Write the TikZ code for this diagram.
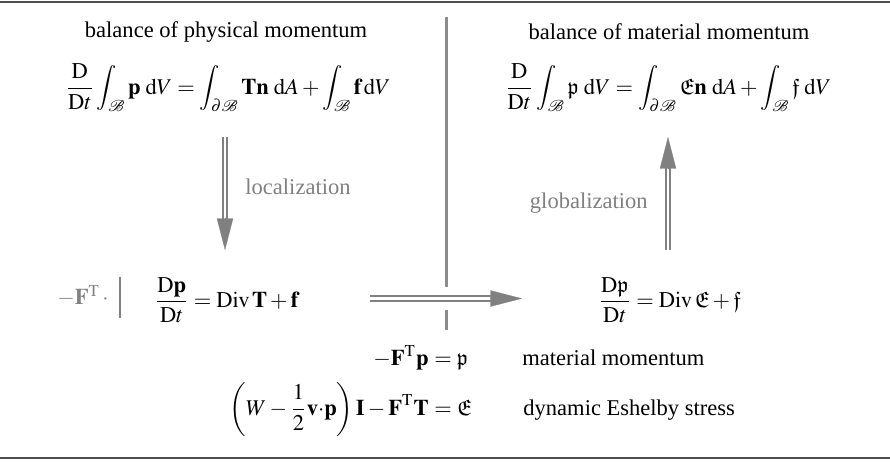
\documentclass[tikz,border=0pt]{standalone}
\usepackage{mathptmx}
\usepackage{amssymb}
\usepackage{mathrsfs}
\usepackage{fontspec}
\setmainfont{Liberation Serif}
\usetikzlibrary{arrows.meta,calc}
\definecolor{agray}{HTML}{808080}
\definecolor{sgray}{HTML}{8C8C8C}
\definecolor{rgray}{HTML}{4D4D4D}
\tikzset{
  shaft/.style={draw=agray, line width=0.9pt, double=white, double distance=0.9pt, shorten >=10pt},
  head/.style={draw=agray, line width=0.1pt, -{Triangle[length=14pt,width=7.2pt]}},
  sep/.style={draw=sgray, line width=1.1pt},
  rulel/.style={draw=rgray, line width=0.9pt},
  eq/.style={inner sep=0pt},
  ttl/.style={inner sep=0pt},
  lbl/.style={inner sep=0pt, text=agray},
}
\newcommand\dblarrow[2]{\draw[shaft] (#1) -- (#2); \draw[head] ($(#2)!14pt!(#1)$) -- (#2);}
\begin{document}
\begin{tikzpicture}[x=0.444pt,y=-0.444pt]
\useasboundingbox (0,0) rectangle (890,461);
% rules
\coordinate (r1a) at (0,2);
\coordinate (r1b) at (890,2);
\coordinate (r2a) at (0,458);
\coordinate (r2b) at (890,458);
\draw[rulel] (r1a) -- (r1b);
\draw[rulel] (r2a) -- (r2b);
% separator
\coordinate (s1) at (446.5,17);
\coordinate (s2) at (446.5,287);
\coordinate (s3) at (446.5,310);
\coordinate (s4) at (446.5,330);
\draw[sep] (s1) -- (s2);
\draw[sep] (s3) -- (s4);
% titles
\node[ttl] (tl) at (226,32) {balance of physical momentum};
\node[ttl] (tr) at (669,32) {balance of material momentum};
% global equations
\node[eq] (el) at (228,88) {$\displaystyle \frac{\mathrm{D}}{\mathrm{D}t}\int_{\mathscr{B}}\mathbf{p}\;\mathrm{d}V = \int_{\partial\mathscr{B}}\mathbf{T}\mathbf{n}\;\mathrm{d}A + \int_{\mathscr{B}}\mathbf{f}\,\mathrm{d}V$};
\node[eq] (er) at (668,88) {$\displaystyle \frac{\mathrm{D}}{\mathrm{D}t}\int_{\mathscr{B}}\mathfrak{p}\;\mathrm{d}V = \int_{\partial\mathscr{B}}\mathfrak{E}\mathbf{n}\;\mathrm{d}A + \int_{\mathscr{B}}\mathfrak{f}\;\mathrm{d}V$};
% arrows
\coordinate (d1) at (225,137);
\coordinate (d2) at (225,250);
\dblarrow{d1}{d2}
\node[lbl, anchor=west] (loc) at (245,187) {localization};
\coordinate (u1) at (668,250);
\coordinate (u2) at (668,137);
\dblarrow{u1}{u2}
\node[lbl, anchor=east] (glob) at (648,203) {globalization};
% local equations
\node[eq, text=agray] (ft) at (83,296) {$-\mathbf{F}^{\mathrm{T}}\,\cdot$};
\coordinate (b1) at (120,277);
\coordinate (b2) at (120,318);
\draw[draw=agray, line width=0.45pt] (b1) -- (b2);
\node[eq] (dl) at (226.5,300) {$\displaystyle \frac{\mathrm{D}\mathbf{p}}{\mathrm{D}t} = \mathrm{Div}\,\mathbf{T} + \mathbf{f}$};
\node[eq] (dr) at (669.5,300) {$\displaystyle \frac{\mathrm{D}\mathfrak{p}}{\mathrm{D}t} = \mathrm{Div}\,\mathfrak{E} + \mathfrak{f}$};
\coordinate (h1) at (370,298.5);
\coordinate (h2) at (522,298.5);
\dblarrow{h1}{h2}
% definitions
\node[eq, anchor=base east] (m1l) at (429,365) {$-\mathbf{F}^{\mathrm{T}}\mathbf{p}$};
\node[eq, anchor=base west] (m1r) at (m1l.base east) {${}={}\mathfrak{p}$};
\node[ttl, anchor=base west] (t1) at (522,365) {material momentum};
\node[eq, anchor=base east] (m2l) at (429,415) {$\displaystyle \left(W-\frac{1}{2}\mathbf{v}{\cdot}\mathbf{p}\right)\mathbf{I}-\mathbf{F}^{\mathrm{T}}\mathbf{T}$};
\node[eq, anchor=base west] (m2r) at (m2l.base east) {${}={}\mathfrak{E}$};
\node[ttl, anchor=base west] (t2) at (523,415) {dynamic Eshelby stress};
\end{tikzpicture}
\end{document}
